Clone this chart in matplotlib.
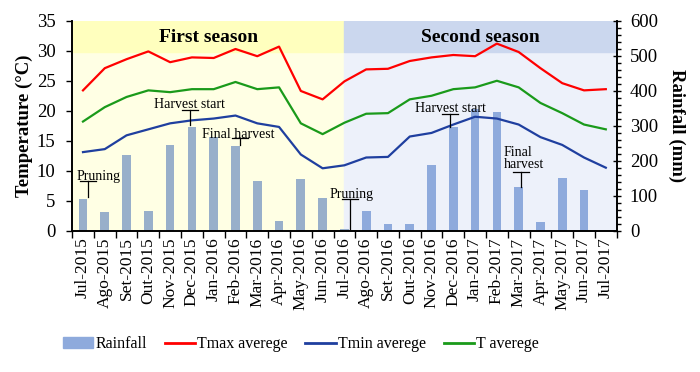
import numpy as np
import matplotlib
matplotlib.use("Agg")
import matplotlib.pyplot as plt
from matplotlib.patches import Rectangle
from matplotlib.lines import Line2D
from matplotlib.patches import Patch

plt.rcParams['font.family'] = ['Liberation Serif', 'DejaVu Serif']

months = ['Jul-2015', 'Ago-2015', 'Set-2015', 'Out-2015', 'Nov-2015', 'Dec-2015',
          'Jan-2016', 'Feb-2016', 'Mar-2016', 'Apr-2016', 'May-2016', 'Jun-2016',
          'Jul-2016', 'Ago-2016', 'Set-2016', 'Out-2016', 'Nov-2016', 'Dec-2016',
          'Jan-2017', 'Feb-2017', 'Mar-2017', 'Apr-2017', 'May-2017', 'Jun-2017',
          'Jul-2017']
rainfall = [91, 52, 216, 57, 245, 295, 268, 243, 142, 28, 147, 94,
            5, 55, 19, 19, 189, 296, 348, 338, 126, 25, 150, 115, 0]
tmax = [23.4, 27.1, 28.6, 29.9, 28.1, 28.9, 28.8, 30.3, 29.1, 30.7, 23.3, 21.9,
        24.9, 26.9, 27.0, 28.3, 28.9, 29.3, 29.1, 31.2, 29.8, 27.1, 24.6, 23.4, 23.6]
tavg = [18.2, 20.6, 22.3, 23.4, 23.1, 23.6, 23.6, 24.8, 23.6, 23.9, 17.9, 16.1,
        18.0, 19.5, 19.6, 21.9, 22.5, 23.6, 23.9, 25.0, 23.9, 21.3, 19.6, 17.7, 16.9]
tmin = [13.1, 13.6, 15.9, 16.9, 17.9, 18.4, 18.7, 19.2, 17.9, 17.3, 12.7, 10.4,
        10.9, 12.2, 12.3, 15.7, 16.3, 17.7, 19.0, 18.7, 17.7, 15.6, 14.3, 12.2, 10.5]

x = np.arange(len(months))
split = 12  # Jul-2016, where the second season begins

fig = plt.figure(figsize=(7, 3.72), dpi=100)
ax = fig.add_axes([0.103, 0.380, 0.778, 0.564])
ax2 = ax.twinx()

# season backgrounds
ax.set_zorder(ax2.get_zorder() + 1)
ax.patch.set_visible(False)
ax2.add_patch(Rectangle((-0.5, 0), split + 0.5, 510, color='#FFFFE4', zorder=0))
ax2.add_patch(Rectangle((-0.5, 510), split + 0.5, 90, color='#FFFFBE', zorder=0))
ax2.add_patch(Rectangle((split, 0), 24.5 - split, 510, color='#EDF1FA', zorder=0))
ax2.add_patch(Rectangle((split, 510), 24.5 - split, 90, color='#CBD7EE', zorder=0))

bar_colors = ['#98AFCA' if i <= split else '#8EAADC' for i in x]
ax2.bar(x, rainfall, width=0.4, color=bar_colors, zorder=1)

ax.plot(x, tmax, color='#FF0000', lw=1.6)
ax.plot(x, tmin, color='#1F3F9F', lw=1.6)
ax.plot(x, tavg, color='#1A9A1A', lw=1.6)

ax.set_xlim(-0.5, 24.5)
ax.set_ylim(0, 35)
ax2.set_ylim(0, 600)
ax.set_yticks(np.arange(0, 36, 5))
ax2.set_yticks(np.arange(0, 601, 100))
ax2.set_yticks(np.arange(0, 601, 20), minor=True)

ax.set_xticks(x)
ax.set_xticklabels(months, rotation=90, fontsize=12.5)
ax.set_xticks(np.arange(-0.5, 25, 1), minor=True)
ax.tick_params(axis='x', which='major', length=0, pad=5)
ax.tick_params(axis='x', which='minor', length=5, width=1, direction='out')
ax.tick_params(axis='y', labelsize=13.5, length=4, width=1, direction='out', pad=8)
ax2.tick_params(axis='y', which='major', labelsize=13.5, length=6, width=1, direction='inout', pad=6.5)
ax2.tick_params(axis='y', which='minor', length=3, width=1, direction='out')

for a in (ax, ax2):
    a.spines['top'].set_visible(False)
    for s in ('left', 'right', 'bottom'):
        a.spines[s].set_linewidth(1.2)

ax.set_ylabel('Temperature (°C)', fontsize=13.5, fontweight='bold', labelpad=3)
ax2.set_ylabel('Rainfall (mm)', fontsize=13.5, fontweight='bold', rotation=270, labelpad=20)

ax.text(5.75, 32.3, 'First season', ha='center', va='center', fontsize=14, fontweight='bold')
ax.text(18.25, 32.3, 'Second season', ha='center', va='center', fontsize=14, fontweight='bold')

# phenology markers (T shapes)
def mark(xc, ytop, ybot, label, tx, ty, ha='center'):
    ax.plot([xc - 0.37, xc + 0.37], [ytop, ytop], color='black', lw=0.9)
    ax.plot([xc, xc], [ytop, ybot], color='black', lw=0.9)
    ax.text(tx, ty, label, ha=ha, va='bottom', fontsize=10, linespacing=0.95)

mark(0.25, 8.2, 5.6, 'Pruning', -0.3, 8.0, ha='left')
mark(4.9, 20.2, 17.7, 'Harvest start', 4.9, 20.0)
mark(7.2, 15.5, 14.3, 'Final harvest', 7.15, 15.0)
mark(12.25, 5.3, 0.2, 'Pruning', 12.35, 5.0)
mark(16.85, 19.5, 17.3, 'Harvest start', 16.85, 19.3)
mark(20.1, 9.8, 7.3, 'Final\nharvest', 19.3, 9.9, ha='left')

handles = [Patch(color='#8EAADC'),
           Line2D([], [], color='#FF0000', lw=2),
           Line2D([], [], color='#1F3F9F', lw=2),
           Line2D([], [], color='#1A9A1A', lw=2)]
labels = ['Rainfall', 'Tmax averege', 'Tmin averege', 'T averege']
fig.legend(handles, labels, loc='center', bbox_to_anchor=(0.43, 0.075), ncol=4,
           frameon=False, fontsize=11.5, handlelength=1.9, handletextpad=0.15,
           columnspacing=1.1)

fig.savefig('out.png', dpi=100)
